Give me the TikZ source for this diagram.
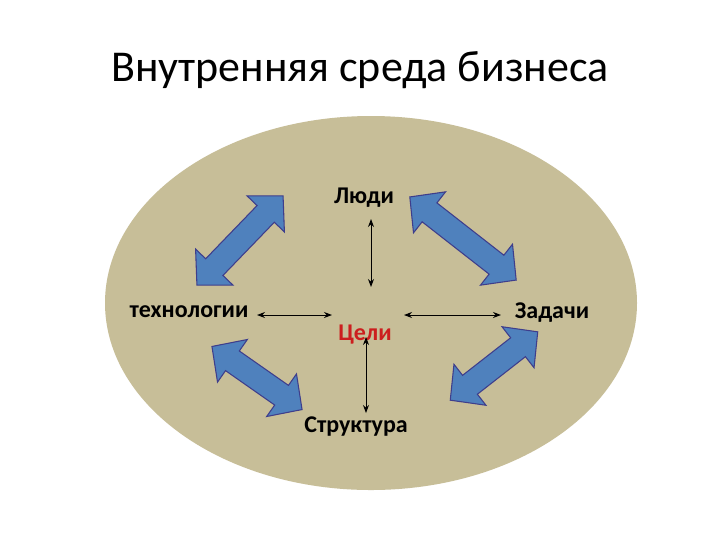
\documentclass[tikz,border=0pt]{standalone}
\usepackage{fontspec}
\setmainfont{Carlito}
\usetikzlibrary{arrows.meta}
\definecolor{oval}{RGB}{199,190,152}
\definecolor{bigfill}{RGB}{79,129,189}
\definecolor{bigedge}{RGB}{62,62,140}
\definecolor{goalred}{RGB}{204,30,30}
\tikzset{
  lbl/.style={font=\fontsize{18pt}{20pt}\selectfont\bfseries, inner sep=0pt},
  thin arrow/.style={line width=0.75pt, {Stealth[length=6pt,width=4.5pt]}-{Stealth[length=6pt,width=4.5pt]}},
  bigarrow/.style={fill=bigfill, draw=bigedge, line width=0.8pt, line join=miter}
}
\newcommand\twowayarrow[5]{% name, cx, cy, visual angle, length
  \begin{scope}[shift={(#2,#3)}, rotate=#4]
    \coordinate (#1) at (0,0);
    \draw[bigarrow] (-#5/2,0) -- (-#5/2+25,26) -- (-#5/2+25,12) -- (#5/2-25,12)
      -- (#5/2-25,26) -- (#5/2,0) -- (#5/2-25,-26) -- (#5/2-25,-12)
      -- (-#5/2+25,-12) -- (-#5/2+25,-26) -- cycle;
  \end{scope}}
\begin{document}
\begin{tikzpicture}[x=0.75pt, y=-0.75pt]
  \useasboundingbox (0,0) rectangle (720,540);
  \fill[white] (0,0) rectangle (720,540);
  % title
  \node[font=\fontsize{33pt}{36pt}\selectfont, inner sep=0pt] (title) at (360,70) {Внутренняя среда бизнеса};
  % oval
  \fill[oval] (371,303) ellipse [x radius=266, y radius=187];
  % big arrows
  \twowayarrow{a1}{240}{240.5}{46}{124}
  \twowayarrow{a2}{463}{238.5}{-38}{135}
  \twowayarrow{a3}{257}{378}{-35}{110}
  \twowayarrow{a4}{494}{366}{38}{111}
  % labels
  \node[lbl] (people) at (364,198) {Люди};
  \node[lbl] (tech) at (189,312) {технологии};
  \node[lbl] (tasks) at (552,313) {Задачи};
  \node[lbl, text=goalred] (goals) at (365,335) {Цели};
  \node[lbl] (struct) at (356,427) {Структура};
  % thin arrow endpoints
  \coordinate (pv1) at (371,219);
  \coordinate (pv2) at (371,287);
  \coordinate (sv1) at (366,337);
  \coordinate (sv2) at (366,413);
  \coordinate (th1) at (257,315);
  \coordinate (th2) at (332,315);
  \coordinate (ta1) at (404,315);
  \coordinate (ta2) at (501,315);
  \draw[thin arrow] (pv1) -- (pv2);
  \draw[thin arrow] (sv1) -- (sv2);
  \draw[thin arrow] (th1) -- (th2);
  \draw[thin arrow] (ta1) -- (ta2);
\end{tikzpicture}
\end{document}
